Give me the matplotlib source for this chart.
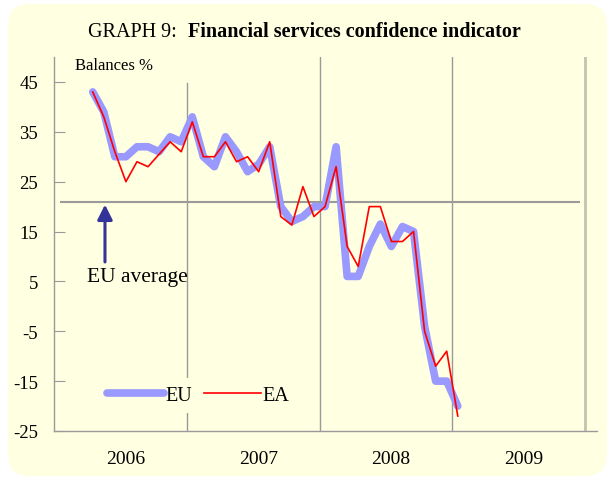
import numpy as np
import pandas as pd
import matplotlib.pyplot as plt
from matplotlib.patches import FancyBboxPatch
from matplotlib.transforms import IdentityTransform

plt.rcParams['font.family'] = ['Liberation Serif', 'DejaVu Serif']

# -----------------------------
# DATA (balances %, monthly)
# -----------------------------
months = pd.period_range("2006-04", "2009-01", freq="M")
eu = [43, 39, 30, 30, 32, 32, 31, 34, 33,
      38, 30, 28, 34, 31, 27, 28.5, 32, 20, 17, 18, 20,
      20, 32, 6, 6, 12, 16.5, 12, 16, 15, -4, -15, -15,
      -20]
ea = [43, 38, 31, 25, 29, 28, 30.5, 33, 31,
      37, 30, 30, 33, 29, 30, 27, 33, 18, 16.3, 24, 18,
      20, 28, 12, 8, 20, 20, 13, 13, 15, -5, -12, -9,
      -22]
eu_average = 21
years = [2006, 2007, 2008, 2009]
yticks = [45, 35, 25, 15, 5, -5, -15, -25]

# decimal year at mid-month
x = months.year + (months.month - 0.5) / 12

bg = "#FFFFE1"

fig = plt.figure(figsize=(6.08, 4.81), dpi=100)
fig.patch.set_facecolor("white")
fig.add_artist(FancyBboxPatch((8, 4), 599, 472, boxstyle="round,pad=0,rounding_size=22",
                              transform=IdentityTransform(), facecolor=bg,
                              edgecolor="none", zorder=-10))

ax = fig.add_axes([54 / 608, 49 / 481, 543 / 608, 374 / 481])
ax.set_facecolor("none")

ax.set_xlim(2006, 2006 + 543 / 132.75)
ax.set_ylim(-25, 50)

# year separators
ax.axvline(2007, ymax=0.93, color="#9A9A9A", lw=1, zorder=1)
ax.axvline(2008, color="#9A9A9A", lw=1, zorder=1)
ax.axvline(2009, color="#9A9A9A", lw=1, zorder=1)
ax.axvline(2010, color="#C4C2B0", lw=2, zorder=1)

# EU average line
ax.hlines(eu_average, 2006.045, 2009.96, color="#9A9A9A", lw=1.5, zorder=1)

ax.plot(x, eu, color="#9999FF", lw=5.5, solid_capstyle="round",
        solid_joinstyle="round", label="EU", zorder=3)
ax.plot(x, ea, color="#FF0000", lw=1.2, label="EA", zorder=4)

# arrow + label
ax.annotate("", xy=(2006.384, 20.4), xytext=(2006.384, 8.9),
            arrowprops=dict(arrowstyle="-|>,head_length=0.9,head_width=0.45",
                            color="#333399", lw=2.2, shrinkA=0, shrinkB=0))
ax.text(2006.25, 6.0, "EU average", fontsize=15.5, ha="left", va="center")
ax.text(2006.16, 48.3, "Balances %", fontsize=12, ha="left", va="center")

# axes styling
for s in ["top", "right"]:
    ax.spines[s].set_visible(False)
for s in ["left", "bottom"]:
    ax.spines[s].set_color("#9A9A9A")
    ax.spines[s].set_linewidth(1)

ax.set_yticks(yticks)
ax.set_yticklabels([str(v) for v in yticks])
ax.tick_params(axis="y", direction="in", length=8, color="#9A9A9A",
               labelsize=13.5, pad=11.5)

ax.set_xticks([])
ax.set_xticks([y + 0.54 for y in years], minor=True)
ax.set_xticklabels([str(y) for y in years], minor=True)
ax.tick_params(axis="x", which="minor", length=0, labelsize=14, pad=14)

leg = ax.legend(loc="center left", bbox_to_anchor=(0.083, 0.095), ncol=2,
                fontsize=14.5, handlelength=2.8, handletextpad=0.1,
                columnspacing=0.6, borderaxespad=0, frameon=True)
leg.get_frame().set_facecolor(bg)
leg.get_frame().set_edgecolor("none")
leg.get_frame().set_alpha(1)

# title
fig.text(88 / 608, 1 - 37 / 481, "GRAPH 9:", fontsize=14.5, va="baseline", ha="left")
fig.text(188 / 608, 1 - 37 / 481, "Financial services confidence indicator",
         fontsize=14.5, fontweight="bold", va="baseline", ha="left")

fig.savefig("out.png", dpi=100)
